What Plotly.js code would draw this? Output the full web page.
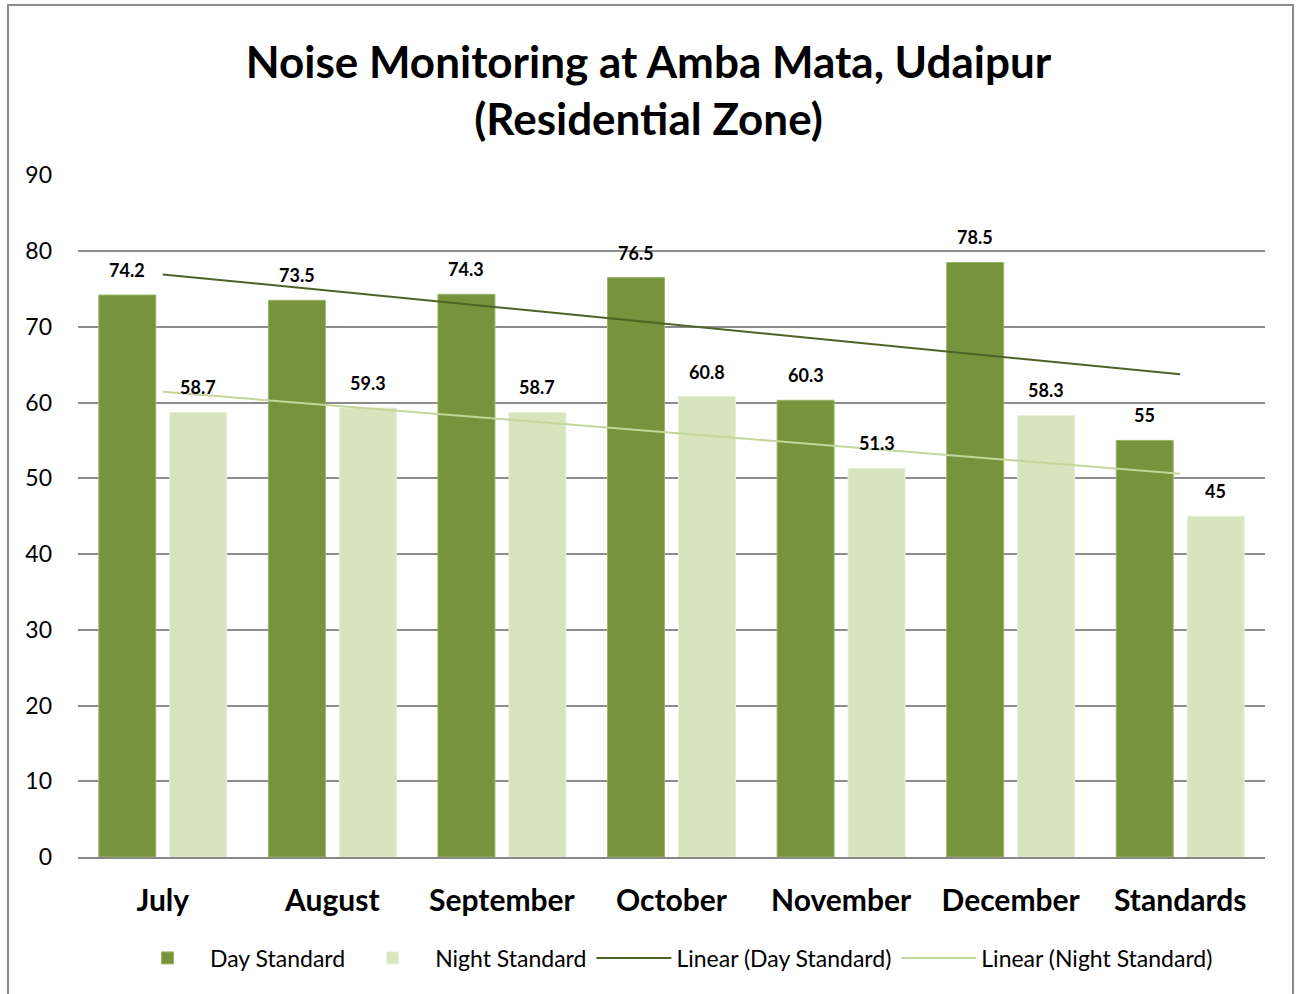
<!DOCTYPE html>
<html>
<head>
<meta charset="utf-8">
<script src="https://cdn.plot.ly/plotly-3.0.1.min.js"></script>
<style>
  html, body { margin: 0; padding: 0; background: #fff; }
  #wrap { position: relative; width: 1297px; height: 994px; overflow: hidden; }
  #chart { position: absolute; left: 0; top: 0; width: 1297px; height: 994px; }
  #frame { position: absolute; left: 7px; top: 4px; width: 1287px; height: 1000px; border: 2px solid #8c8c8c; box-sizing: border-box; pointer-events: none; }
</style>
</head>
<body>
<div id="wrap">
  <div id="chart"></div>
  <div id="frame"></div>
</div>
<script>
const categories = ["July", "August", "September", "October", "November", "December", "Standards"];
const dayValues = [74.2, 73.5, 74.3, 76.5, 60.3, 78.5, 55];
const nightValues = [58.7, 59.3, 58.7, 60.8, 51.3, 58.3, 45];
const yTicks = [0, 10, 20, 30, 40, 50, 60, 70, 80, 90];

function linearFit(vals) {
  const n = vals.length;
  const xs = vals.map((_, i) => i + 1);
  const mx = xs.reduce((a, b) => a + b, 0) / n;
  const my = vals.reduce((a, b) => a + b, 0) / n;
  let sxy = 0, sxx = 0;
  for (let i = 0; i < n; i++) { sxy += (xs[i] - mx) * (vals[i] - my); sxx += (xs[i] - mx) ** 2; }
  const b = sxy / sxx, a = my - b * mx;
  return xs.map(x => a + b * x);
}

const FONT = "Lato, 'Open Sans', sans-serif";
const dayColor = "#77933C";
const nightColor = "#D7E4BD";

const traces = [
  {
    type: "bar", name: "Day Standard", x: categories, y: dayValues,
    marker: { color: dayColor, line: { color: "#9bb467", width: 1 } },
    hoverinfo: "x+y"
  },
  {
    type: "bar", name: "Night Standard", x: categories, y: nightValues,
    marker: { color: nightColor, line: { color: "#e8f0d8", width: 1 } },
    hoverinfo: "x+y"
  },
  {
    type: "scatter", mode: "lines", name: "Linear (Day Standard)", x: categories, y: linearFit(dayValues),
    line: { color: "#4F6228", width: 2 }, hoverinfo: "skip"
  },
  {
    type: "scatter", mode: "lines", name: "Linear (Night Standard)", x: categories, y: linearFit(nightValues),
    line: { color: "#C3D69B", width: 2 }, hoverinfo: "skip"
  }
];

const labelFont = { family: FONT, size: 18, color: "#000", weight: "bold" };
const annotations = [];
categories.forEach((c, i) => {
  annotations.push({ x: c, y: dayValues[i], xref: "x", yref: "y", text: "<b>" + dayValues[i] + "</b>",
    showarrow: false, xshift: -35.5, yshift: 12, yanchor: "bottom", font: labelFont });
  annotations.push({ x: c, y: nightValues[i], xref: "x", yref: "y", text: "<b>" + nightValues[i] + "</b>",
    showarrow: false, xshift: 35.5, yshift: 12, yanchor: "bottom", font: labelFont });
});

const layout = {
  width: 1297, height: 994,
  paper_bgcolor: "#fff", plot_bgcolor: "#fff",
  margin: { l: 78, r: 32, t: 175, b: 137 },
  title: {
    text: "<b>Noise Monitoring at Amba Mata, Udaipur<br>(Residential Zone)</b>",
    font: { family: FONT, size: 44, color: "#000" },
    x: 0.5, xanchor: "center", yref: "container", y: 0.9215, yanchor: "middle"
  },
  barmode: "group", bargap: 0.163, bargroupgap: 0.197,
  showlegend: true,
  annotations: annotations,
  legend: {
    orientation: "h", x: 0.5, xanchor: "center", y: -0.148, yanchor: "middle",
    font: { family: FONT, size: 23, color: "#000" }, itemwidth: 75, traceorder: "normal"
  },
  xaxis: {
    type: "category", showgrid: false, zeroline: false, showline: true,
    linecolor: "#888", linewidth: 2, ticks: "",
    tickfont: { family: FONT, size: 30, color: "#000", weight: "bold" }, ticklabelstandoff: 16
  },
  yaxis: {
    range: [0, 90.05], tickvals: yTicks, ticktext: yTicks.map(String),
    showgrid: true, gridcolor: "#8c8c8c", gridwidth: 2, zeroline: false, showline: false,
    tickfont: { family: FONT, size: 23, color: "#000" }, ticklabelstandoff: 25
  },
  font: { family: FONT }
};

Plotly.newPlot("chart", traces, layout, { displayModeBar: false, staticPlot: true });
</script>
</body>
</html>
